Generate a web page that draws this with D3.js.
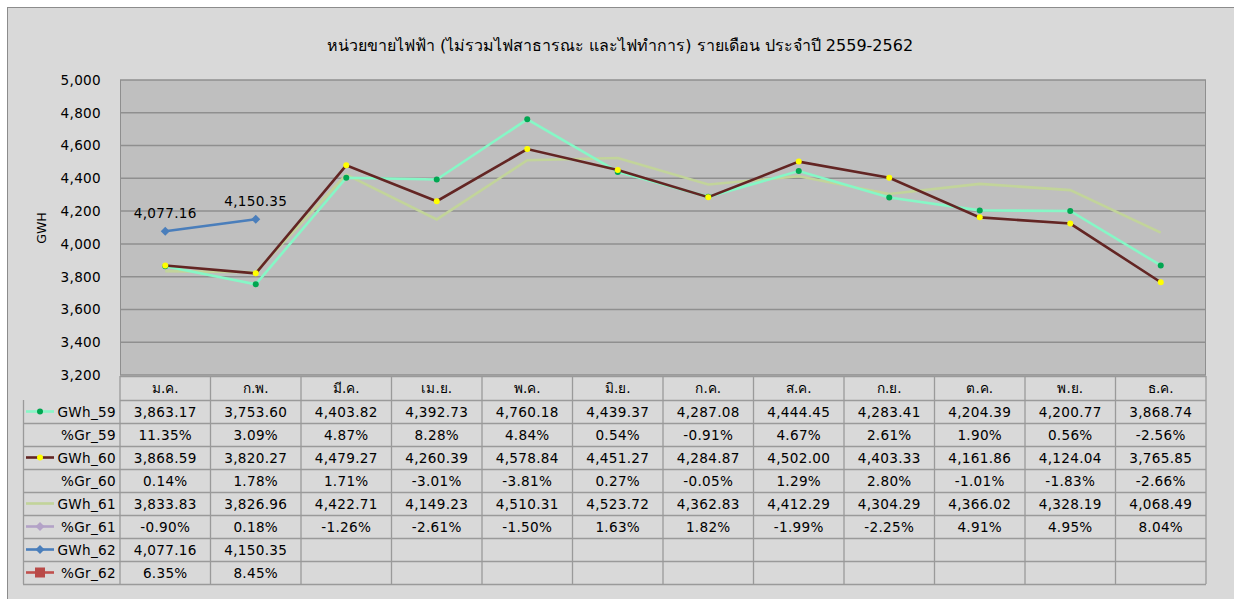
<!DOCTYPE html>
<html><head><meta charset="utf-8">
<script src="https://cdn.jsdelivr.net/npm/d3@7"></script>
<style>
html,body{margin:0;padding:0;background:#fff;}
svg{display:block;}
text{font-family:"DejaVu Sans",Verdana,sans-serif;}
</style></head>
<body>
<svg id="c" width="1234" height="599"></svg>
<script>
const months = ["ม.ค.","ก.พ.","มี.ค.","เม.ย.","พ.ค.","มิ.ย.","ก.ค.","ส.ค.","ก.ย.","ต.ค.","พ.ย.","ธ.ค."];
const yTicks = [3200,3400,3600,3800,4000,4200,4400,4600,4800,5000];
const gwh59 = [3863.17,3753.60,4403.82,4392.73,4760.18,4439.37,4287.08,4444.45,4283.41,4204.39,4200.77,3868.74];
const gr59  = [11.35,3.09,4.87,8.28,4.84,0.54,-0.91,4.67,2.61,1.90,0.56,-2.56];
const gwh60 = [3868.59,3820.27,4479.27,4260.39,4578.84,4451.27,4284.87,4502.00,4403.33,4161.86,4124.04,3765.85];
const gr60  = [0.14,1.78,1.71,-3.01,-3.81,0.27,-0.05,1.29,2.80,-1.01,-1.83,-2.66];
const gwh61 = [3833.83,3826.96,4422.71,4149.23,4510.31,4523.72,4362.83,4412.29,4304.29,4366.02,4328.19,4068.49];
const gr61  = [-0.90,0.18,-1.26,-2.61,-1.50,1.63,1.82,-1.99,-2.25,4.91,4.95,8.04];
const gwh62 = [4077.16,4150.35];
const gr62  = [6.35,8.45];
const title = "หน่วยขายไฟฟ้า (ไม่รวมไฟสาธารณะ และไฟทำการ) รายเดือน ประจำปี 2559-2562";

const svg = d3.select("#c");
const L = 120, R = 1206, T = 80, B = 375;
const x = d3.scaleBand().domain(months).range([L, R]);
const y = d3.scaleLinear().domain([3200, 5000]).range([B, T]);
const cx = m => x(m) + x.bandwidth()/2;
const FS = 13.6, LS = 0.3;

// chart background
svg.append("rect").attr("x",7.5).attr("y",7.5).attr("width",1240).attr("height",600)
  .attr("fill","#d9d9d9").attr("stroke","#8c8c8c").attr("stroke-width",1);

// title
svg.append("text").attr("x",620).attr("y",51).attr("text-anchor","middle")
  .attr("font-family","Tahoma,'Noto Sans','DejaVu Sans',sans-serif")
  .attr("font-size",16).attr("fill","#000").text(title);

// plot area
svg.append("rect").attr("x",L).attr("y",T).attr("width",R-L).attr("height",B-T)
  .attr("fill","#bfbfbf");
svg.append("g").selectAll("line").data(yTicks).join("line")
  .attr("x1",L).attr("x2",R).attr("y1",d=>y(d)).attr("y2",d=>y(d))
  .attr("stroke","#8f8f8f").attr("stroke-width",1.5);
svg.append("line").attr("x1",L+0.5).attr("x2",L+0.5).attr("y1",T).attr("y2",B).attr("stroke","#8f8f8f");
svg.append("line").attr("x1",R-0.5).attr("x2",R-0.5).attr("y1",T).attr("y2",B).attr("stroke","#8f8f8f");

// y axis
const yAxis = d3.axisLeft(y).tickValues(yTicks).tickFormat(d3.format(",")).tickSize(0).tickPadding(19);
const ga = svg.append("g").attr("transform",`translate(${L},0)`).call(yAxis);
ga.select(".domain").remove();
ga.selectAll("text").attr("font-size",FS).attr("letter-spacing",LS).attr("fill","#000").attr("font-family","'DejaVu Sans',Verdana,sans-serif");
svg.append("text").attr("transform","translate(46,228) rotate(-90)").attr("text-anchor","middle")
  .attr("font-size",12.5).attr("fill","#000").text("GWH");

// lines
const line = d3.line().x((d,i)=>cx(months[i])).y(d=>y(d));
svg.append("path").datum(gwh61).attr("d",line).attr("fill","none").attr("stroke","#c2d49a").attr("stroke-width",2.6);
svg.append("path").datum(gwh59).attr("d",line).attr("fill","none").attr("stroke","#86f7c6").attr("stroke-width",2.6);
svg.append("path").datum(gwh60).attr("d",line).attr("fill","none").attr("stroke","#632523").attr("stroke-width",2.6);
svg.append("path").datum(gwh62).attr("d",line).attr("fill","none").attr("stroke","#4a7ebb").attr("stroke-width",2.6);

svg.append("g").selectAll("circle").data(gwh59).join("circle")
  .attr("cx",(d,i)=>cx(months[i])).attr("cy",d=>y(d)).attr("r",3).attr("fill","#00a651");
svg.append("g").selectAll("circle").data(gwh60).join("circle")
  .attr("cx",(d,i)=>cx(months[i])).attr("cy",d=>y(d)).attr("r",3).attr("fill","#ffff00");
const diamond = d3.symbol().type(d3.symbolSquare).size(40);
svg.append("g").selectAll("path").data(gwh62).join("path")
  .attr("transform",(d,i)=>`translate(${cx(months[i])},${y(d)}) rotate(45)`).attr("d",diamond).attr("fill","#4a7ebb");
const fmt2 = d3.format(",.2f");
svg.append("g").selectAll("text").data(gwh62).join("text")
  .attr("x",(d,i)=>cx(months[i])).attr("y",d=>y(d)-13).attr("text-anchor","middle")
  .attr("font-size",FS).attr("letter-spacing",LS).attr("fill","#000").text(d=>fmt2(d));

// data table
const rowH = 23, hdrTop = 376, hdrH = 24;
const rows = [
  {name:"GWh_59", vals:gwh59, f:fmt2, key:"dot", line:"#86f7c6", mk:"#00a651"},
  {name:"%Gr_59", vals:gr59, f:d=>d.toFixed(2)+"%", key:null},
  {name:"GWh_60", vals:gwh60, f:fmt2, key:"dot", line:"#632523", mk:"#ffff00"},
  {name:"%Gr_60", vals:gr60, f:d=>d.toFixed(2)+"%", key:null},
  {name:"GWh_61", vals:gwh61, f:fmt2, key:"line", line:"#c2d49a"},
  {name:"%Gr_61", vals:gr61, f:d=>d.toFixed(2)+"%", key:"diamond", line:"#b3a2c7", mk:"#b3a2c7"},
  {name:"GWh_62", vals:gwh62, f:fmt2, key:"diamond", line:"#4a7ebb", mk:"#4a7ebb"},
  {name:"%Gr_62", vals:gr62, f:d=>d.toFixed(2)+"%", key:"square", line:"#c0504d", mk:"#b94a48"}
];
const tb = svg.append("g");
const gridC = "#9a9a9a";
const rowTop = i => hdrTop + hdrH + i*rowH;
const tBot = rowTop(rows.length);
// header cells
tb.selectAll("text.m").data(months).join("text").attr("class","m")
  .attr("x",d=>cx(d)).attr("y",hdrTop+hdrH/2+5).attr("text-anchor","middle")
  .attr("font-family","Tahoma,'Noto Sans','DejaVu Sans',sans-serif")
  .attr("font-size",FS).attr("fill","#000").text(d=>d);
// horizontal lines
const hLines = [hdrTop].concat(d3.range(rows.length+1).map(rowTop));
tb.selectAll("line.h").data(hLines).join("line").attr("class","h")
  .attr("x1",(d,i)=>i<2?L:23).attr("x2",R).attr("y1",d=>d+0.5).attr("y2",d=>d+0.5)
  .attr("stroke",gridC).attr("stroke-width",1.3);
// vertical lines
const vx = months.map(m=>x(m)).concat([R]);
tb.selectAll("line.v").data(vx).join("line").attr("class","v")
  .attr("x1",d=>d).attr("x2",d=>d).attr("y1",hdrTop).attr("y2",tBot)
  .attr("stroke",gridC).attr("stroke-width",1.3);
tb.append("line").attr("x1",23.5).attr("x2",23.5).attr("y1",rowTop(0)).attr("y2",tBot)
  .attr("stroke",gridC).attr("stroke-width",1.3);
// rows
rows.forEach((r,ri)=>{
  const yc = rowTop(ri) + rowH/2;
  tb.append("text").attr("x",116).attr("y",yc+5).attr("text-anchor","end")
    .attr("font-size",FS).attr("letter-spacing",LS).attr("fill","#000").text(r.name);
  if (r.key) {
    tb.append("line").attr("x1",26).attr("x2",54).attr("y1",yc).attr("y2",yc)
      .attr("stroke",r.line).attr("stroke-width",2.6);
    if (r.key==="dot") tb.append("circle").attr("cx",40).attr("cy",yc).attr("r",3).attr("fill",r.mk);
    if (r.key==="diamond") tb.append("path").attr("transform",`translate(40,${yc}) rotate(45)`).attr("d",diamond).attr("fill",r.mk);
    if (r.key==="square") tb.append("rect").attr("x",35).attr("y",yc-5).attr("width",10).attr("height",10).attr("fill",r.mk);
  }
  tb.selectAll(null).data(r.vals).join("text")
    .attr("x",(d,i)=>cx(months[i])).attr("y",yc+5).attr("text-anchor","middle")
    .attr("font-size",FS).attr("letter-spacing",LS).attr("fill","#000").text(d=>r.f(d));
});
</script>
</body></html>
